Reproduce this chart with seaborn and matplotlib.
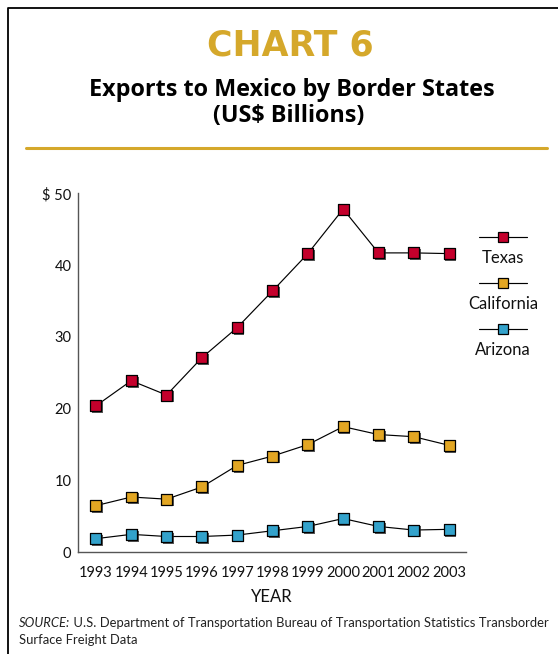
import matplotlib
matplotlib.use("Agg")
import matplotlib.pyplot as plt
import matplotlib.patheffects as pe
from matplotlib.lines import Line2D
import numpy as np
import pandas as pd
import seaborn as sns

# data (US$ billions)
years = [1993, 1994, 1995, 1996, 1997, 1998, 1999, 2000, 2001, 2002, 2003]
texas = [20.4, 23.9, 21.9, 27.1, 31.3, 36.4, 41.6, 47.8, 41.7, 41.7, 41.6]
california = [6.5, 7.7, 7.4, 9.1, 12.1, 13.4, 15.0, 17.5, 16.4, 16.1, 14.9]
arizona = [1.9, 2.5, 2.2, 2.2, 2.4, 3.0, 3.6, 4.7, 3.6, 3.1, 3.2]
states = ["Texas", "California", "Arizona"]
colors = {"Texas": "#C4002C", "California": "#E2A623", "Arizona": "#33A2CB"}
y_ticks = [0, 10, 20, 30, 40, 50]
y_labels = ["0", "10", "20", "30", "40", "$ 50"]

df = pd.DataFrame({
    "year": years * 3,
    "value": texas + california + arizona,
    "state": [s for s in states for _ in years],
})

sns.set_style("white")
plt.rcParams["font.family"] = ["Lato", "DejaVu Sans"]

W, H = 558, 654
fig = plt.figure(figsize=(W / 100, H / 100), dpi=100)
ax = fig.add_axes([78.3 / W, 1 - 552.3 / H, (465.7 - 78.3) / W, (552.3 - 193.3) / H])

def fx(px):
    return px / W

def fy(py):
    return 1 - py / H

sns.lineplot(data=df, x="year", y="value", units="state", estimator=None,
             color="black", lw=0.85, ax=ax, legend=False, zorder=2)
sns.scatterplot(data=df, x="year", y="value", hue="state", palette=colors,
                marker="s", s=62, edgecolor="black", linewidth=0.9,
                ax=ax, legend=False, zorder=3)
ax.collections[-1].set_path_effects([
    pe.SimplePatchShadow(offset=(1.3, -1.3), shadow_rgbFace="#222222", alpha=0.75),
    pe.Normal()])

ax.set_xlim(1992.5, 2003.47)
ax.set_ylim(0, 50)
ax.set_xticks(years)
ax.set_xticklabels([str(y) for y in years])
ax.set_yticks(y_ticks)
ax.set_yticklabels(y_labels)
ax.tick_params(axis="both", length=0, labelsize=10.5, colors="#111111")
ax.tick_params(axis="x", pad=10)
ax.tick_params(axis="y", pad=5)
ax.set_ylabel("")
ax.set_xlabel("YEAR", fontsize=12, color="#111111")
ax.xaxis.set_label_coords(0.5, -0.103)
for side in ["top", "right"]:
    ax.spines[side].set_visible(False)
for side in ["left", "bottom"]:
    ax.spines[side].set_color("#555555")
    ax.spines[side].set_linewidth(1.0)

# legend: short line with marker, label underneath
leg_y = [237.3, 283.3, 329.3]
for s, yy in zip(states, leg_y):
    ln = Line2D([fx(479), fx(503), fx(527)], [fy(yy)] * 3, color="black", lw=0.85,
                marker="s", markevery=[1], markersize=7.5, markerfacecolor=colors[s],
                markeredgecolor="black", markeredgewidth=0.9, transform=fig.transFigure)
    fig.add_artist(ln)
    fig.text(fx(503), fy(yy + 21), s, ha="center", va="center", fontsize=12, color="#111111")

# titles
fig.text(fx(290), fy(46), "CHART 6", ha="center", va="center", fontsize=25,
         fontweight="bold", family="DejaVu Sans", color="#D5A82B")
fig.text(fx(292), fy(89.5), "Exports to Mexico by Border States", ha="center", va="center",
         fontsize=16.8, fontweight="bold", family="Open Sans", color="black")
fig.text(fx(289), fy(116), "(US$ Billions)", ha="center", va="center",
         fontsize=16.8, fontweight="bold", family="Open Sans", color="black")
fig.add_artist(Line2D([fx(26), fx(547)], [fy(148.3)] * 2, color="#D5A82B", lw=2.2,
                      transform=fig.transFigure))

# frame
fig.add_artist(Line2D([fx(7.5), fx(7.5), fx(558)], [fy(654), fy(7.5), fy(7.5)],
                      color="black", lw=1.3, transform=fig.transFigure))

# source note
t1 = fig.text(fx(19), fy(629), "SOURCE:", ha="left", va="bottom", fontsize=9.4,
              style="italic", color="#222222")
ax.annotate(" U.S. Department of Transportation Bureau of Transportation Statistics Transborder",
            xy=(1, 0), xycoords=t1, ha="left", va="bottom", fontsize=9.4,
            color="#222222", annotation_clip=False)
fig.text(fx(19), fy(645.5), "Surface Freight Data", ha="left", va="bottom", fontsize=9.4,
         color="#222222")

fig.savefig("out.png", dpi=100)
